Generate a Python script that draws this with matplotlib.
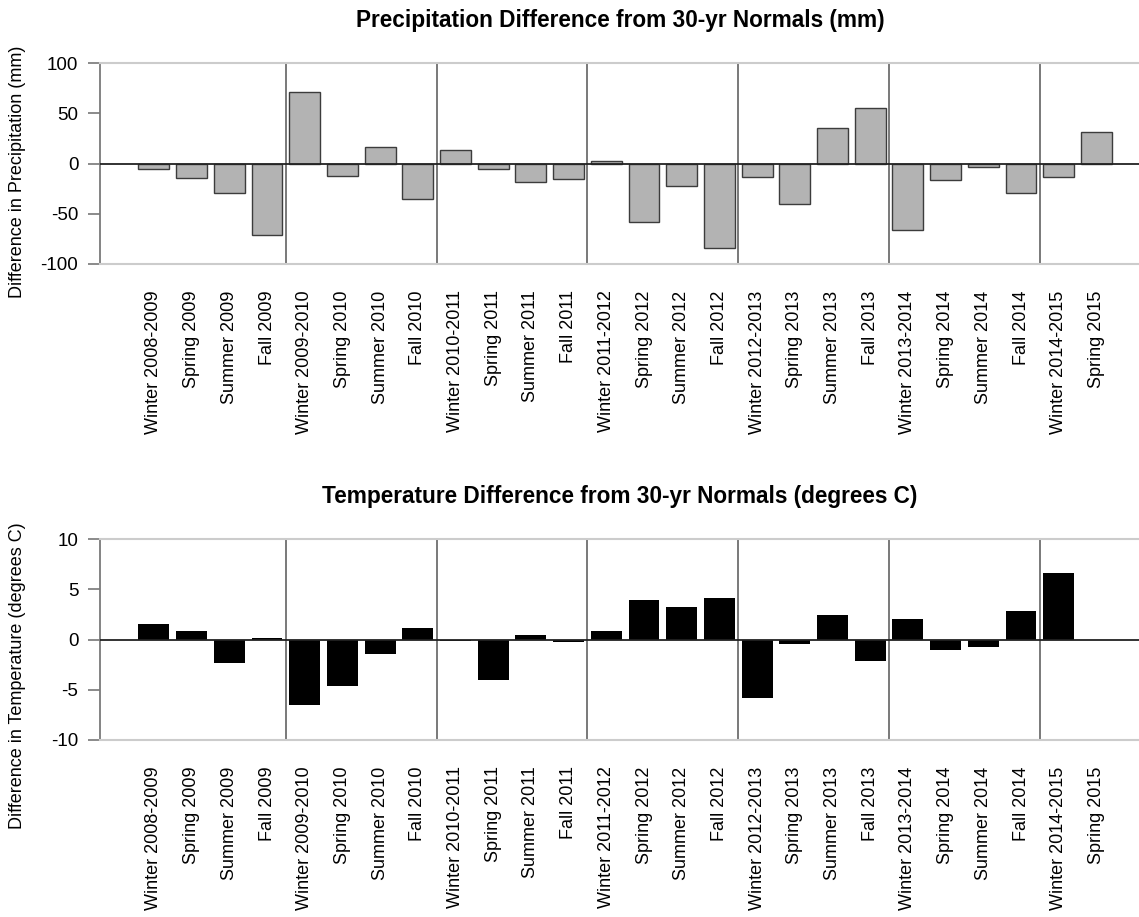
import matplotlib
matplotlib.use("Agg")
import matplotlib.pyplot as plt
import numpy as np

categories = [
    "Winter 2008-2009", "Spring 2009", "Summer 2009", "Fall 2009",
    "Winter 2009-2010", "Spring 2010", "Summer 2010", "Fall 2010",
    "Winter 2010-2011", "Spring 2011", "Summer 2011", "Fall 2011",
    "Winter 2011-2012", "Spring 2012", "Summer 2012", "Fall 2012",
    "Winter 2012-2013", "Spring 2013", "Summer 2013", "Fall 2013",
    "Winter 2013-2014", "Spring 2014", "Summer 2014", "Fall 2014",
    "Winter 2014-2015", "Spring 2015",
]
precip = [-5.5, -14.6, -29, -71, 71.5, -12, 16, -35.5,
          13.3, -5.5, -18, -15.5, 2.5, -58.3, -22.5, -84.4,
          -13, -40, 35.4, 55.6, -66.2, -16.6, -3.3, -29,
          -13, 31]
temp = [1.52, 0.8, -2.35, 0.15, -6.56, -4.64, -1.46, 1.13,
        -0.1, -4.0, 0.4, -0.23, 0.8, 3.97, 3.2, 4.14,
        -5.83, -0.43, 2.48, -2.15, 2.05, -1.06, -0.73, 2.85,
        6.66, 0.0]
precip_ticks = [-100, -50, 0, 50, 100]
temp_ticks = [-10, -5, 0, 5, 10]

plt.rcParams['font.family'] = ['Liberation Sans', 'DejaVu Sans']

W, H = 1139, 917
fig = plt.figure(figsize=(W / 100, H / 100), dpi=100)

x = np.arange(len(categories))
separators = [i - 0.5 for i in range(4, len(categories), 4)]


def make_panel(bottom_px, vals, ticks, color, edge, elw, title, title_y, ylabel, ylabel_y):
    left = 100 / W
    ax = fig.add_axes([left, (H - bottom_px) / H, 1 - left, 201 / H])
    ax.bar(x, vals, width=0.82, color=color, edgecolor=edge, linewidth=elw, zorder=2)
    for s in separators:
        ax.axvline(s, color='#6e6e6e', lw=1.3, zorder=1)
    ax.axhline(0, color='#222222', lw=1.3, zorder=3)
    ax.set_xlim(-1.43, 26.13)
    ax.set_ylim(ticks[0], ticks[-1])
    ax.set_yticks(ticks)
    ax.set_yticklabels([str(t) for t in ticks])
    ax.set_xticks(x)
    ax.set_xticklabels(categories, rotation=90, ha='center', va='top')
    ax.tick_params(axis='x', length=0, pad=19, labelsize=13)
    ax.tick_params(axis='y', length=8.6, width=1.2, color='#777777', pad=7, labelsize=13.5)
    ax.spines['right'].set_visible(False)
    ax.spines['top'].set_color('#cccccc')
    ax.spines['top'].set_linewidth(1.5)
    ax.spines['bottom'].set_color('#cccccc')
    ax.spines['bottom'].set_linewidth(1.5)
    ax.spines['left'].set_color('#7a7a7a')
    ax.spines['left'].set_linewidth(1.3)
    fig.text(620 / W, (H - title_y) / H, title, ha='center', va='center',
             fontsize=16.3, fontweight='bold')
    fig.text(18 / W, (H - ylabel_y) / H, ylabel, rotation=90, ha='center', va='center',
             fontsize=13)
    return ax


make_panel(264, precip, precip_ticks, '#b3b3b3', '#3c3c3c', 1.0,
           'Precipitation Difference from 30-yr Normals (mm)', 20,
           'Difference in Precipitation (mm)', 172)
make_panel(740, temp, temp_ticks, '#000000', '#000000', 0.0,
           'Temperature Difference from 30-yr Normals (degrees C)', 497,
           'Difference in Temperature (degrees C)', 676)

fig.savefig('out.png', dpi=100)
